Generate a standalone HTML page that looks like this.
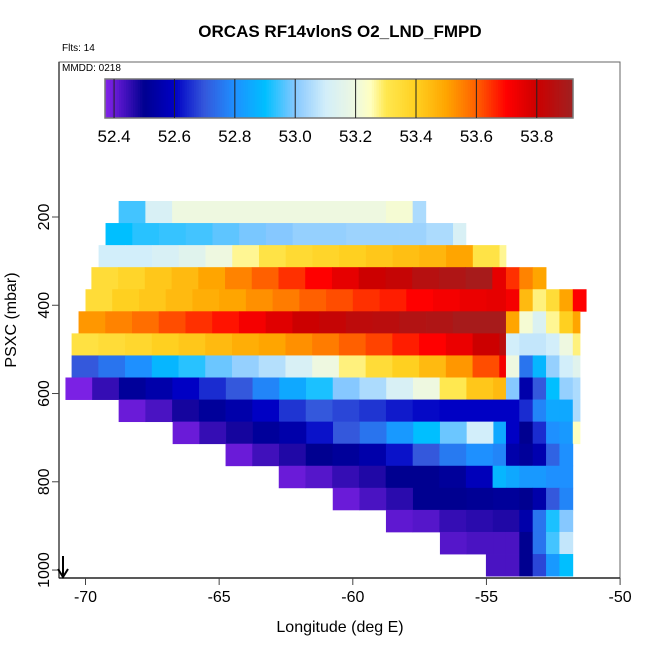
<!DOCTYPE html>
<html><head><meta charset="utf-8"><style>
body{margin:0;background:#fff}
svg{display:block;font-family:"Liberation Sans",sans-serif}
</style></head><body>
<svg id="chart" width="650" height="650" viewBox="0 0 650 650">
<text x="340" y="37" text-anchor="middle" font-size="17" font-weight="bold">ORCAS RF14vlonS O2_LND_FMPD</text>
<text x="62" y="51" font-size="10">Flts: 14</text>
<g id="cells"></g>
<g id="cbar"></g>
<rect x="59" y="62" width="561" height="516" fill="none" stroke="#666" stroke-width="1"/>
<text x="62" y="71" font-size="10">MMDD: 0218</text>
<g id="axes"></g>
<text x="340" y="632" text-anchor="middle" font-size="16">Longitude (deg E)</text>
<text transform="translate(16,320) rotate(-90)" text-anchor="middle" font-size="16">PSXC (mbar)</text>
<g><line x1="63" y1="556" x2="63" y2="576" stroke="#000" stroke-width="2"/><path d="M58,569 L63,577 L68,569" fill="none" stroke="#000" stroke-width="2"/></g>
</svg>
<script>
// ---- data ----
const xTicks = [-70, -65, -60, -55, -50];
const yTicks = [200, 400, 600, 800, 1000];
const cbarTicks = [52.4, 52.6, 52.8, 53.0, 53.2, 53.4, 53.6, 53.8];
const rowTopP = 163.7;      // top pressure of first row (mbar)
const rowStepP = 50;        // pressure bin (mbar)
const eastStart = -54.27;
const mainStep = 1.0;
const eastStep = 0.5;
const rowStart = [-68.76,-69.25,-69.51,-69.78,-70.0,-70.26,-70.52,-70.52,-70.75,-68.76,-66.74,-64.76,-62.77,-60.75,-58.76,-56.74,-55.02];
const rowEnd = [-57.27,-55.77,-54.27,-52.77,-51.27,-51.5,-51.5,-51.5,-51.5,-51.5,-51.5,-51.76,-51.76,-51.76,-51.76,-51.76,-51.76];
const rowMain = [
 [52.95,53.12,53.2,53.2,53.2,53.2,53.2,53.2,53.2,53.2,53.22,53.05],
 [52.9,52.93,52.94,52.95,52.97,52.99,53.0,53.02,53.02,53.03,53.03,53.03,53.05,53.12],
 [53.1,53.1,53.12,53.15,53.2,53.27,53.32,53.36,53.38,53.4,53.42,53.44,53.46,53.5,53.32,53.27],
 [53.35,53.38,53.42,53.45,53.5,53.55,53.6,53.65,53.7,53.75,53.8,53.82,53.86,53.88,53.9,53.75],
 [53.35,53.4,53.42,53.45,53.48,53.5,53.53,53.56,53.6,53.62,53.65,53.67,53.7,53.72,53.74,53.75],
 [53.52,53.55,53.58,53.62,53.65,53.68,53.72,53.76,53.8,53.82,53.84,53.85,53.87,53.88,53.9,53.9],
 [53.33,53.35,53.37,53.4,53.42,53.45,53.48,53.5,53.53,53.56,53.6,53.63,53.67,53.7,53.74,53.8,53.85],
 [52.7,52.75,52.8,52.88,52.93,52.98,53.02,53.06,53.12,53.2,53.28,53.35,53.4,53.45,53.52,53.62,53.72],
 [52.38,52.45,52.52,52.55,52.6,52.65,52.7,52.78,52.85,52.92,53.0,53.05,53.12,53.2,53.3,53.42,53.45],
 [52.4,52.43,52.48,52.52,52.55,52.6,52.66,52.7,52.68,52.66,52.63,52.61,52.6,52.6,52.6],
 [52.4,52.45,52.48,52.52,52.55,52.62,52.7,52.75,52.82,52.9,52.98,53.1,52.85],
 [52.4,52.44,52.47,52.5,52.52,52.55,52.62,52.7,52.76,52.8,52.78],
 [52.4,52.42,52.45,52.47,52.5,52.5,52.52,52.58,52.88],
 [52.4,52.43,52.46,52.5,52.5,52.51,52.52],
 [52.41,52.42,52.45,52.46,52.47],
 [52.42,52.43,52.43],
 [52.43]
];
const rowEast = [
 [],[],[],
 [53.65,53.55,53.5],
 [53.72,53.45,53.28,53.35,53.5,53.7],
 [53.5,53.22,53.13,53.27,53.4,53.5],
 [53.1,53.08,53.08,53.1,53.2,53.28],
 [53.2,52.75,52.88,53.02,53.1,53.15],
 [53.0,52.55,52.7,52.9,53.02,53.05],
 [52.6,52.65,52.78,52.85,52.85,53.05],
 [52.6,52.5,52.65,52.8,52.82,53.25],
 [52.55,52.52,52.56,52.72,52.8],
 [52.85,52.82,52.82,52.8,52.8],
 [52.52,52.5,52.55,52.7,52.78],
 [52.47,52.55,52.75,52.92,53.0],
 [52.43,52.5,52.75,52.95,53.08],
 [52.43,52.5,52.68,52.82,52.9]
];
const cbarMin = 52.37, cbarMax = 53.92;
const stopVals = [52.37,52.4,52.5,52.6,52.7,52.8,52.9,53.0,53.1,53.2,53.25,53.3,53.4,53.5,53.6,53.7,53.8,53.92];
const stopCols = ['#8424ea','#6a1bd8','#000090','#0000c4','#3458dc','#1e90ff','#00bfff','#86c8ff','#d2eefa','#eef8e0','#ffffc0','#ffe850','#ffd020','#ffa500','#ff6000','#ff0000','#cc0000','#a02020'];

// ---- scales ----
const NS='http://www.w3.org/2000/svg';
function xs(lon){return 85.5+(lon+70)*26.73;}
function ys(p){return 217+(p-200)*0.4413;}
function hex(c){return [1,3,5].map(i=>parseInt(c.substr(i,2),16));}
function color(v){
  if(v<=stopVals[0])return stopCols[0];
  for(let i=1;i<stopVals.length;i++){
    if(v<=stopVals[i]){
      const t=(v-stopVals[i-1])/(stopVals[i]-stopVals[i-1]);
      const a=hex(stopCols[i-1]),b=hex(stopCols[i]);
      return 'rgb('+a.map((x,j)=>Math.round(x+(b[j]-x)*t)).join(',')+')';
    }
  }
  return stopCols[stopCols.length-1];
}
function mk(tag,attrs,parent){const e=document.createElementNS(NS,tag);for(const k in attrs)e.setAttribute(k,attrs[k]);parent.appendChild(e);return e;}

// ---- heatmap ----
const cells=document.getElementById('cells');
rowMain.forEach((vals,k)=>{
  const pTop=rowTopP+k*rowStepP, y0=ys(pTop), y1=ys(pTop+rowStepP);
  const mainEnd = rowEast[k].length ? eastStart : rowEnd[k];
  vals.forEach((v,i)=>{
    const a=rowStart[k]+i*mainStep, b=Math.min(a+mainStep,mainEnd);
    if(b<=a)return;
    const r=mk('rect',{x:xs(a),y:y0,width:xs(b)-xs(a)+0.4,height:y1-y0+0.4,fill:color(v)},cells);
    
    
  });
  rowEast[k].forEach((v,i)=>{
    const a=eastStart+i*eastStep, b=Math.min(a+eastStep,rowEnd[k]);
    if(b<=a)return;
    const r=mk('rect',{x:xs(a),y:y0,width:xs(b)-xs(a)+0.4,height:y1-y0+0.4,fill:color(v)},cells);
    
    
  });
});

// ---- colorbar ----
const cb=document.getElementById('cbar');
const cbx0=105,cbx1=573,cby0=79,cby1=118;
function cbx(v){return cbx0+(v-cbarMin)/(cbarMax-cbarMin)*(cbx1-cbx0);}
const N=200;
for(let i=0;i<N;i++){
  const v=cbarMin+(i+0.5)/N*(cbarMax-cbarMin);
  const r=mk('rect',{x:cbx0+i*(cbx1-cbx0)/N,y:cby0,width:(cbx1-cbx0)/N+0.5,height:cby1-cby0,fill:color(v)},cb);
  
  
}
mk('rect',{x:cbx0,y:cby0,width:cbx1-cbx0,height:cby1-cby0,fill:'none',stroke:'#777','stroke-width':1.5},cb);
cbarTicks.forEach(t=>{
  const l=mk('line',{x1:cbx(t),x2:cbx(t),y1:cby0,y2:cby1,stroke:'#222','stroke-width':1},cb);
  
  
  const tx=mk('text',{x:cbx(t),y:cby1+24,'text-anchor':'middle','font-size':17},cb);
  tx.textContent=t.toFixed(1);
  
  
});

// ---- axes ----
const ax=document.getElementById('axes');
mk('line',{x1:59,x2:59,y1:62,y2:578,stroke:'#444','stroke-width':1.5},ax);
mk('line',{x1:59,x2:620,y1:578,y2:578,stroke:'#222','stroke-width':1.5},ax);
xTicks.forEach(t=>{
  const l=mk('line',{x1:xs(t),x2:xs(t),y1:578,y2:585,stroke:'#444'},ax);
  
  
  const tx=mk('text',{x:xs(t),y:602,'text-anchor':'middle','font-size':16},ax);
  tx.textContent=String(t);
  
  
});
yTicks.forEach(t=>{
  const l=mk('line',{x1:52,x2:59,y1:ys(t),y2:ys(t),stroke:'#444'},ax);
  
  
  const tx=mk('text',{transform:'translate(49,'+ys(t)+') rotate(-90)','text-anchor':'middle','font-size':16},ax);
  tx.textContent=String(t);
  
  
});
</script>
</body></html>
